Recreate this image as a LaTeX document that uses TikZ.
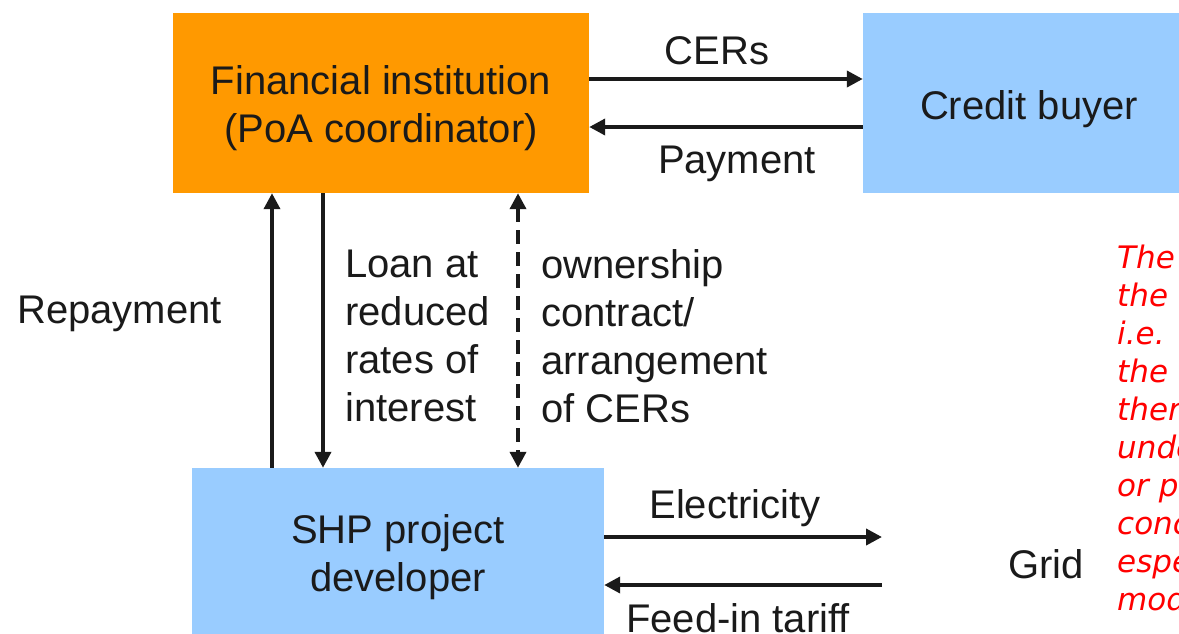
\documentclass[tikz,border=0pt]{standalone}
\usepackage{fontspec}
\setmainfont{Liberation Sans}
\newfontfamily\notefont{DejaVu Sans}
\usetikzlibrary{arrows.meta,calc}
\definecolor{fiorange}{HTML}{FF9900}
\definecolor{shpblue}{HTML}{99CCFF}
\definecolor{notered}{HTML}{FF0000}
\definecolor{inkgrey}{HTML}{1A1A1A}
\begin{document}
\begin{tikzpicture}[x=1pt,y=-1pt,
  box/.style={rectangle, inner sep=0pt},
  lbl/.style={inner sep=0pt, align=left, text=inkgrey,
    font=\fontsize{40}{48}\selectfont},
  boxtext/.style={lbl, align=center},
  arr/.style={line width=3.8pt, draw=inkgrey, -{Triangle[length=16pt,width=16pt]}},
  dblarr/.style={line width=3.8pt, draw=inkgrey, dash pattern=on 14pt off 8pt,
    {Triangle[length=16pt,width=16pt]}-{Triangle[length=16pt,width=16pt]}},
  note/.style={inner sep=0pt, align=left, text=notered,
    font=\notefont\itshape\fontsize{31}{38}\selectfont}]
\useasboundingbox (0,0) rectangle (1179,633);
\clip (0,0) rectangle (1179,633);
% boxes
\node[box, fill=fiorange, minimum width=416pt, minimum height=180pt] (fi) at (381,103) {};
\node[box, fill=shpblue, minimum width=332pt, minimum height=180pt] (cb) at (1029,103) {};
\node[box, fill=shpblue, minimum width=412pt, minimum height=172pt] (shp) at (398,554) {};
\node[boxtext] (fitext) at (381,108) {Financial institution\\(PoA coordinator)};
\node[boxtext] (cbtext) at (1029,109) {Credit buyer};
\node[boxtext] (shptext) at (398,557) {SHP project\\developer};
\node[lbl] (grid) at (1046,564) {Grid};
% helper coordinates
\coordinate (rx) at (272,0);
\coordinate (lx) at (323,0);
\coordinate (dx) at (518,0);
\coordinate (gridin) at (882,537);
\coordinate (gridout) at (882,585);
% top arrows
\draw[arr] ([yshift=24pt]fi.east) -- ([yshift=24pt]cb.west);
\draw[arr] ([yshift=-24pt]cb.west) -- ([yshift=-24pt]fi.east);
% vertical arrows
\draw[arr] (shp.north -| rx) -- (fi.south -| rx);
\draw[arr] (fi.south -| lx) -- (shp.north -| lx);
\draw[dblarr] (fi.south -| dx) -- (shp.north -| dx);
% bottom arrows
\draw[arr] (shp.east |- gridin) -- (gridin);
\draw[arr] (gridout) -- (shp.east |- gridout);
% labels
\node[lbl] (cers) at (717,51) {CERs};
\node[lbl] (pay) at (737,164) {Payment};
\node[lbl, anchor=west] (rep) at (17,314) {Repayment};
\node[lbl, anchor=west] (loan) at (345,336) {Loan at\\reduced\\rates of\\interest};
\node[lbl, anchor=west] (own) at (541,336) {ownership\\contract/\\arrangement\\of CERs};
\node[lbl] (elec) at (735,508) {Electricity};
\node[lbl] (feed) at (738,618) {Feed-in tariff};
\node[note, anchor=west] (rednote) at (1117,428)
  {The\\the\\i.e.\\the\\ther\\unde\\or p\\conc\\espe\\mod};
\end{tikzpicture}
\end{document}
